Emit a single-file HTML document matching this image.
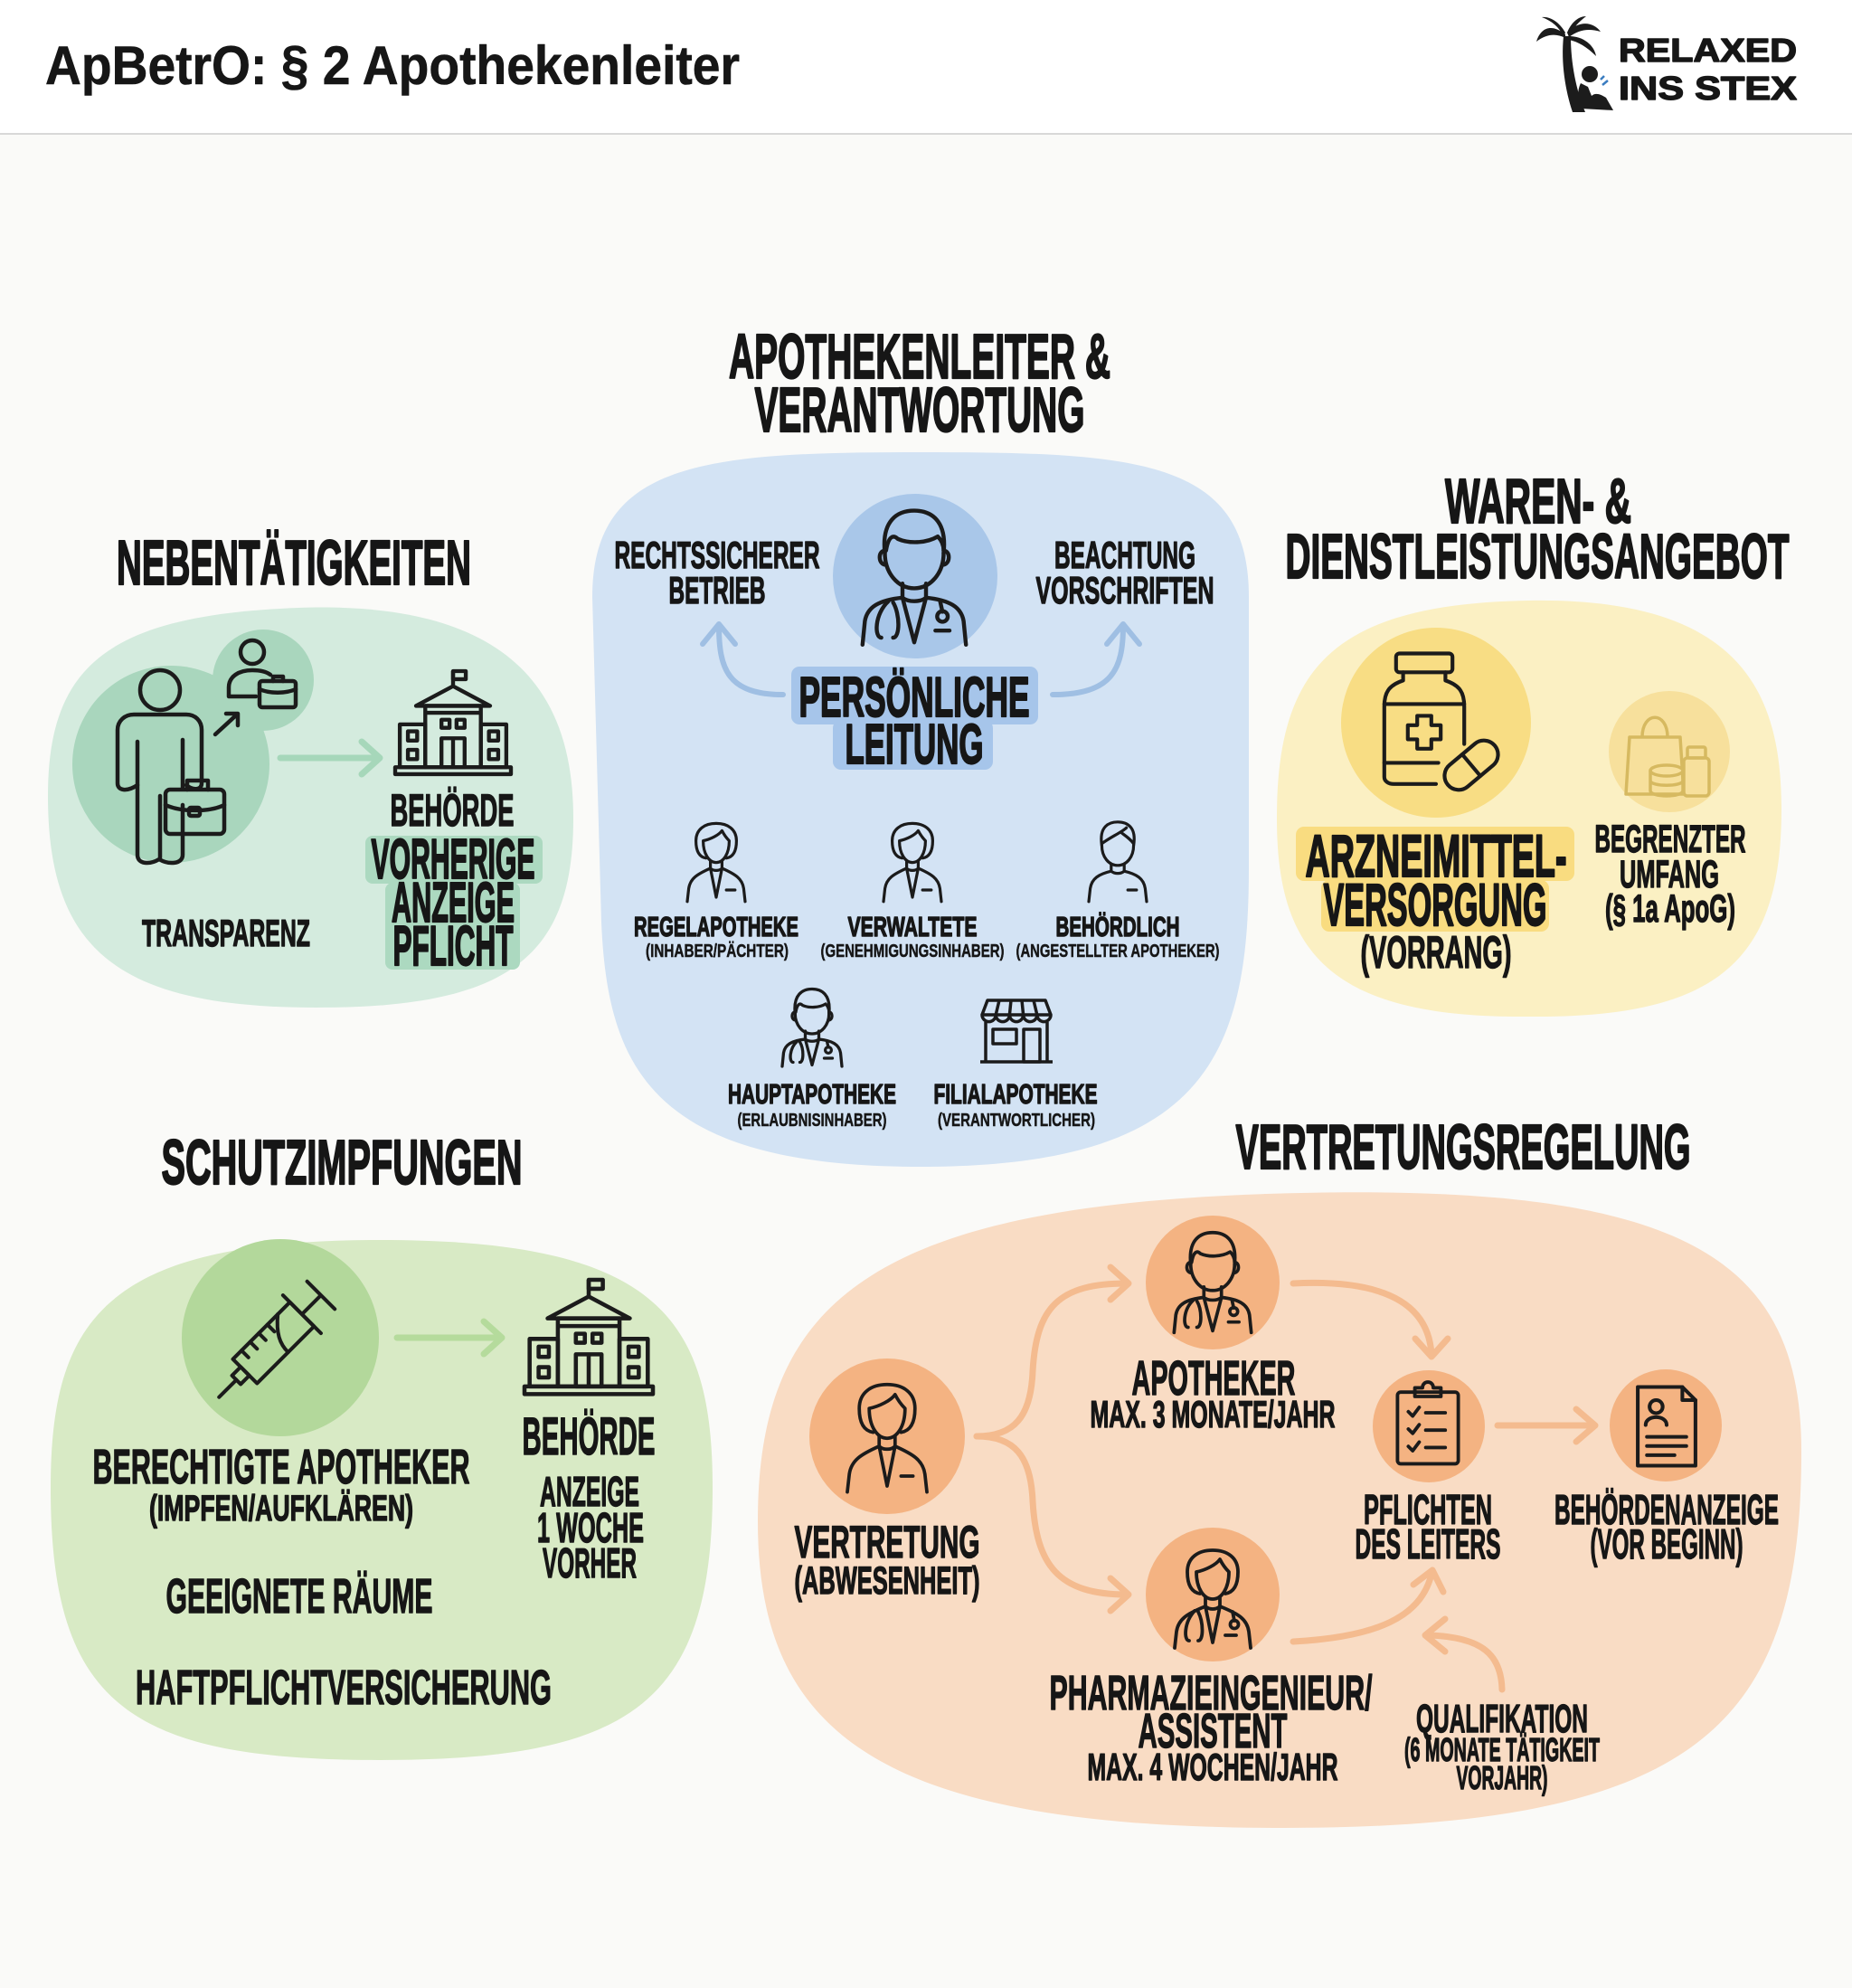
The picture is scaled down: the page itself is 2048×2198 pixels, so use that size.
<!DOCTYPE html>
<html><head><meta charset="utf-8"><style>
html,body{margin:0;padding:0;background:#fafaf8;}
svg{display:block;}
text{font-family:"Liberation Sans","DejaVu Sans",sans-serif;font-weight:700;fill:#161616;stroke:#161616;stroke-width:1.4px;stroke-linejoin:round;}
.hd text{stroke-width:2.2px;}
.sm text{stroke-width:0.5px;}
text.title{stroke-width:0.6px;}
</style></head><body>
<svg width="2048" height="2198" viewBox="0 0 2048 2198" xmlns="http://www.w3.org/2000/svg">
<defs>
 <g id="docM" fill="none" stroke="#1b1b1b" stroke-linecap="round" stroke-linejoin="round">
  <path d="M-25 -22 C-28 -50 -14 -58 0 -58 C14 -58 28 -50 25 -22"/>
  <path d="M-25 -22 C-25 -5 -14 8 0 8 C14 8 25 -5 25 -22"/>
  <path d="M-24 -24 C-22 -36 -18 -38 -14 -34 C-5 -30 10 -30 20 -36 C24 -32 25 -28 25 -24"/>
  <path d="M-25 -24 C-31 -24 -31 -12 -24 -12 M25 -24 C31 -24 31 -12 24 -12"/>
  <path d="M-10 4 V16 M10 4 V16 M-10 16 C-5 20 5 20 10 16"/>
  <path d="M-44 56 L-42 36 C-40 24 -30 18 -10 16 L0 54 L10 16 C30 18 40 24 42 36 L44 56"/>
  <path d="M-22 19 C-34 30 -34 50 -28 50 M-18 20 C-12 30 -12 50 -18 50"/>
  <path d="M22 19 L24 28"/><circle cx="24" cy="32" r="4.5"/>
  <path d="M18 44 H30"/>
 </g>
 <g id="woman" fill="none" stroke="#1b1b1b" stroke-linecap="round" stroke-linejoin="round">
  <path d="M-14 -4 C-26 -6 -28 -18 -28 -28 C-28 -44 -16 -52 0 -52 C16 -52 28 -44 28 -28 C28 -18 26 -6 14 -4"/>
  <path d="M-18 -28 C-8 -30 4 -36 8 -42 C12 -34 16 -30 18 -28 C18 -10 10 2 0 2 C-10 2 -18 -10 -18 -28 Z"/>
  <path d="M-8 0 V10 M8 0 V10 M-8 10 C-4 14 4 14 8 10"/>
  <path d="M-40 56 L-38 38 C-36 24 -26 18 -8 10 L0 50 L8 10 C26 18 36 24 38 38 L40 56"/>
  <path d="M14 40 H26"/>
 </g>
 <g id="docW" fill="none" stroke="#1b1b1b" stroke-linecap="round" stroke-linejoin="round">
  <path d="M-14 -4 C-26 -6 -28 -18 -28 -28 C-28 -44 -16 -52 0 -52 C16 -52 28 -44 28 -28 C28 -18 26 -6 14 -4"/>
  <path d="M-18 -28 C-8 -30 4 -36 8 -42 C12 -34 16 -30 18 -28 C18 -10 10 2 0 2 C-10 2 -18 -10 -18 -28 Z"/>
  <path d="M-8 0 V10 M8 0 V10 M-8 10 C-4 14 4 14 8 10"/>
  <path d="M-42 56 L-40 38 C-38 24 -28 18 -8 10 L0 50 L8 10 C28 18 38 24 40 38 L42 56"/>
  <path d="M-20 15 C-32 28 -32 48 -26 48 M-16 16 C-10 28 -10 48 -16 48"/>
  <path d="M22 16 L24 26"/><circle cx="24" cy="30" r="4.5"/>
  <path d="M14 42 H26"/>
 </g>
 <g id="man" fill="none" stroke="#1b1b1b" stroke-linecap="round" stroke-linejoin="round">
  <path d="M-22 -22 C-26 -48 -12 -54 0 -54 C14 -54 26 -46 22 -22"/>
  <path d="M-22 -22 C-22 -5 -12 6 0 6 C12 6 22 -5 22 -22"/>
  <path d="M-22 -24 C-12 -32 6 -40 12 -46 M4 -40 C12 -34 18 -30 22 -24"/>
  <path d="M-9 4 V14 M9 4 V14 M-9 14 C-4 18 4 18 9 14"/>
  <path d="M-40 56 L-38 38 C-36 24 -26 18 -9 14 M9 14 C26 18 36 24 38 38 L40 56"/>
  <path d="M14 40 H26"/>
 </g>
 <g id="bldg" fill="none" stroke="#1b1b1b" stroke-linejoin="round">
  <path d="M0 -36 V-50"/><rect x="0" y="-50" width="11" height="7"/>
  <path d="M-32 -20 L0 -37 L32 -20 Z"/>
  <rect x="-24" y="-20" width="48" height="53"/>
  <path d="M-24 -14 H24"/>
  <rect x="-10" y="-8" width="7" height="7"/><rect x="3" y="-8" width="7" height="7"/>
  <rect x="-10" y="8" width="20" height="25"/><path d="M0 8 V33"/>
  <rect x="-46" y="-4" width="22" height="37"/><rect x="24" y="-4" width="22" height="37"/>
  <rect x="-39" y="2" width="8" height="8"/><rect x="-39" y="18" width="8" height="8"/>
  <rect x="31" y="2" width="8" height="8"/><rect x="31" y="18" width="8" height="8"/>
  <rect x="-50" y="33" width="100" height="6"/>
 </g>
</defs>

<!-- header -->
<rect x="0" y="0" width="2048" height="148" fill="#ffffff"/>
<rect x="0" y="147" width="2048" height="2" fill="#d8d8d8"/>
<text class="title" x="50" y="93" font-size="60" textLength="768" lengthAdjust="spacingAndGlyphs" fill="#222">ApBetrO: § 2 Apothekenleiter</text>

<!-- logo -->
<g fill="#1c1c1c">
 <path d="M1739 124 C1731 100 1726 70 1729 40 L1737 40 C1737 70 1743 100 1753 124 Z"/>
 <path d="M1731 38 C1716 26 1704 30 1699 46 C1711 37 1721 37 1731 42 Z"/>
 <path d="M1731 36 C1724 24 1714 18 1705 19 C1716 23 1724 30 1729 40 Z"/>
 <path d="M1733 36 C1746 22 1762 24 1770 35 C1756 31 1746 33 1735 41 Z"/>
 <path d="M1735 40 C1751 40 1763 50 1765 62 C1755 52 1745 46 1735 44 Z"/>
 <path d="M1733 36 C1738 24 1746 18 1754 18 C1746 24 1740 30 1736 40 Z"/>
 <circle cx="1758" cy="82" r="9"/>
 <path d="M1748 92 C1744 100 1744 112 1748 120 L1784 122 L1776 108 C1770 104 1764 102 1760 106 L1756 96 Z"/>
</g>
<path d="M1770 88 L1774 84 M1772 94 L1778 89" stroke="#3a7cc0" stroke-width="2.5" fill="none"/>
<text x="1790" y="68" font-size="36" textLength="197" lengthAdjust="spacingAndGlyphs" fill="#1c1c1c">RELAXED</text>
<text x="1790" y="110" font-size="36" textLength="197" lengthAdjust="spacingAndGlyphs" fill="#1c1c1c">INS STEX</text>

<!-- ============ BLUE ============ -->
<path d="M1018 500 C1260 500 1381 508 1381 660 L1381 960 C1381 1170 1330 1290 1018 1290 C720 1290 672 1180 665 1020 L655 660 C655 510 780 500 1018 500 Z" fill="#d3e3f4"/>
<circle cx="1012" cy="637" r="91" fill="#a9c7e9"/>
<use href="#docM" transform="translate(1011 640) scale(1.3)" stroke-width="3.4"/>
<rect x="875" y="737" width="273" height="64" rx="9" fill="#a6c5ea"/>
<rect x="921" y="796" width="177" height="55" rx="9" fill="#a6c5ea"/>
<g fill="none" stroke="#9fbfe3" stroke-width="6" stroke-linecap="round" stroke-linejoin="round">
 <path d="M866 768 C805 768 795 740 795 692"/>
 <path d="M777 712 L795 690 L813 712"/>
 <path d="M1164 768 C1230 768 1242 740 1242 692"/>
 <path d="M1224 712 L1242 690 L1260 712"/>
</g>
<g font-size="42" text-anchor="middle">
 <text x="793" y="628" textLength="227" lengthAdjust="spacingAndGlyphs">RECHTSSICHERER</text>
 <text x="793" y="667" textLength="107" lengthAdjust="spacingAndGlyphs">BETRIEB</text>
 <text x="1244" y="628" textLength="156" lengthAdjust="spacingAndGlyphs">BEACHTUNG</text>
 <text x="1244" y="667" textLength="197" lengthAdjust="spacingAndGlyphs">VORSCHRIFTEN</text>
</g>
<g class="hd" font-size="62" text-anchor="middle">
 <text x="1011" y="792" textLength="255" lengthAdjust="spacingAndGlyphs">PERSÖNLICHE</text>
 <text x="1011" y="844" textLength="153" lengthAdjust="spacingAndGlyphs">LEITUNG</text>
</g>
<use href="#woman" transform="translate(792 952) scale(0.8)" stroke-width="4"/>
<use href="#woman" transform="translate(1009 952) scale(0.8)" stroke-width="4"/>
<use href="#man" transform="translate(1236 952) scale(0.8)" stroke-width="4"/>
<use href="#docM" transform="translate(898 1137) scale(0.75)" stroke-width="4.4"/>
<g transform="translate(1124 1146)" fill="none" stroke="#1b1b1b" stroke-width="3.5" stroke-linejoin="round">
 <path d="M-38 -24 L-32 -40 L32 -40 L38 -24"/>
 <path d="M-38 -24 A7.6 7.6 0 0 0 -22.8 -24 A7.6 7.6 0 0 0 -7.6 -24 A7.6 7.6 0 0 0 7.6 -24 A7.6 7.6 0 0 0 22.8 -24 A7.6 7.6 0 0 0 38 -24 Z"/>
 <path d="M-19 -40 L-22.8 -24 M-6 -40 L-7.6 -24 M6 -40 L7.6 -24 M19 -40 L22.8 -24"/>
 <path d="M-34 -16 V28 M34 -16 V28 M-40 28 H40"/>
 <rect x="-26" y="-8" width="26" height="16"/>
 <rect x="8" y="-8" width="18" height="36"/>
</g>
<g font-size="31" text-anchor="middle">
 <text x="792" y="1035" textLength="182" lengthAdjust="spacingAndGlyphs">REGELAPOTHEKE</text>
 <text x="1009" y="1035" textLength="143" lengthAdjust="spacingAndGlyphs">VERWALTETE</text>
 <text x="1236" y="1035" textLength="137" lengthAdjust="spacingAndGlyphs">BEHÖRDLICH</text>
 <text x="898" y="1220" textLength="186" lengthAdjust="spacingAndGlyphs">HAUPTAPOTHEKE</text>
 <text x="1123" y="1220" textLength="181" lengthAdjust="spacingAndGlyphs">FILIALAPOTHEKE</text>
</g>
<g class="sm" font-size="20" text-anchor="middle">
 <text x="793" y="1058" textLength="158" lengthAdjust="spacingAndGlyphs">(INHABER/PÄCHTER)</text>
 <text x="1009" y="1058" textLength="203" lengthAdjust="spacingAndGlyphs">(GENEHMIGUNGSINHABER)</text>
 <text x="1236" y="1058" textLength="225" lengthAdjust="spacingAndGlyphs">(ANGESTELLTER APOTHEKER)</text>
 <text x="898" y="1245" textLength="165" lengthAdjust="spacingAndGlyphs">(ERLAUBNISINHABER)</text>
 <text x="1124" y="1245" textLength="174" lengthAdjust="spacingAndGlyphs">(VERANTWORTLICHER)</text>
</g>

<!-- ============ NEBENTÄTIGKEITEN ============ -->
<path d="M330 672 C565 664 634 765 634 905 C634 1060 560 1114 350 1114 C130 1114 53 1050 53 880 C53 735 120 680 330 672 Z" fill="#d4ebde"/>
<circle cx="189" cy="845" r="109" fill="#a9d6bd"/>
<circle cx="291" cy="752" r="56" fill="#a9d6bd"/>
<g fill="none" stroke="#1b1b1b" stroke-width="4.5" stroke-linecap="round" stroke-linejoin="round">
 <circle cx="177" cy="763" r="22"/>
 <path d="M148 790 H206 C216 790 223 797 223 807 V866 C223 874 213 874 206 868 M152 790 H148 C138 790 130 797 130 807 V866 C130 874 140 876 152 868 V945 C152 956 166 956 176 950 C186 956 202 956 202 945 V890"/>
 <path d="M152 820 V868 M202 818 V872 M177 880 V948"/>
 <rect x="183" y="873" width="65" height="49" rx="5"/>
 <path d="M207 873 V863 H230 V873"/>
 <path d="M183 890 C200 898 232 898 248 890"/>
 <rect x="209" y="893" width="12" height="9" rx="2"/>
 <circle cx="279" cy="721" r="13"/>
 <path d="M283 770 H253 V760 C253 748 264 741 279 741 C288 741 295 743 299 746"/>
 <rect x="287" y="753" width="40" height="29" rx="3"/>
 <path d="M302 753 V748 H313 V753 M287 762 C298 767 316 767 327 762"/>
 <path d="M238 812 L262 790 M250 789 H263 V802"/>
</g>
<g fill="none" stroke="#a6d7ba" stroke-width="7" stroke-linecap="round" stroke-linejoin="round">
 <path d="M310 838 H418"/><path d="M400 820 L420 838 L400 856"/>
</g>
<use href="#bldg" transform="translate(501 806) scale(1.28)" stroke-width="3.4"/>
<rect x="404" y="924" width="196" height="53" rx="8" fill="#acd9c0"/>
<rect x="426" y="976" width="149" height="96" rx="8" fill="#acd9c0"/>
<text x="250" y="1046" font-size="42" text-anchor="middle" textLength="186" lengthAdjust="spacingAndGlyphs">TRANSPARENZ</text>
<text x="500" y="913" font-size="50" text-anchor="middle" textLength="137" lengthAdjust="spacingAndGlyphs">BEHÖRDE</text>
<g class="hd" font-size="62" text-anchor="middle">
 <text x="501" y="971" textLength="181" lengthAdjust="spacingAndGlyphs">VORHERIGE</text>
 <text x="501" y="1019" textLength="136" lengthAdjust="spacingAndGlyphs">ANZEIGE</text>
 <text x="501" y="1067" textLength="133" lengthAdjust="spacingAndGlyphs">PFLICHT</text>
</g>

<!-- ============ WAREN ============ -->
<path d="M1690 664 C1925 660 1970 765 1970 895 C1970 1062 1900 1126 1690 1124 C1470 1126 1412 1052 1412 905 C1412 742 1470 668 1690 664 Z" fill="#fbf0c3"/>
<circle cx="1588" cy="799" r="105" fill="#f8dd84"/>
<circle cx="1846" cy="831" r="67" fill="#f7e09c"/>
<g transform="translate(1575 794) scale(1.3)" fill="none" stroke="#1b1b1b" stroke-width="3.2" stroke-linejoin="round" stroke-linecap="round">
 <rect x="-24" y="-55" width="48" height="16" rx="3"/>
 <path d="M-18 -39 V-32 C-30 -28 -34 -22 -34 -10 V50 C-34 54 -30 56 -26 56 H10 M18 -39 V-32 C30 -28 34 -22 34 -10 V22"/>
 <path d="M-34 -12 H34 M-34 38 H12"/>
 <path d="M-6 -2 H6 V6 H14 V18 H6 V26 H-6 V18 H-14 V6 H-6 Z"/>
 <g transform="translate(40 40) rotate(-40)">
  <rect x="-26" y="-12" width="52" height="24" rx="12"/>
  <path d="M0 -12 V12"/>
 </g>
</g>
<g fill="none" stroke="#d6b960" stroke-width="3.5" stroke-linejoin="round">
 <path d="M1802 815 L1858 815 L1862 878 L1798 878 Z"/>
 <path d="M1816 815 C1816 786 1844 786 1844 815"/>
 <rect x="1862" y="838" width="28" height="42" rx="4"/>
 <rect x="1866" y="826" width="20" height="12" rx="2"/>
 <ellipse cx="1843" cy="852" rx="18" ry="6" fill="#f7e09c"/>
 <path d="M1825 852 V874 C1825 882 1861 882 1861 874 V852 M1825 863 C1825 870 1861 870 1861 863"/>
</g>
<rect x="1433" y="914" width="308" height="60" rx="9" fill="#f9dc80"/>
<rect x="1461" y="973" width="252" height="57" rx="9" fill="#f9dc80"/>
<g class="hd" font-size="66" text-anchor="middle">
 <text x="1588" y="969" textLength="289" lengthAdjust="spacingAndGlyphs">ARZNEIMITTEL-</text>
 <text x="1587" y="1023" textLength="247" lengthAdjust="spacingAndGlyphs">VERSORGUNG</text>
</g>
<text x="1588" y="1070" font-size="50" text-anchor="middle" textLength="167" lengthAdjust="spacingAndGlyphs">(VORRANG)</text>
<g font-size="43" text-anchor="middle">
 <text x="1847" y="942" textLength="167" lengthAdjust="spacingAndGlyphs">BEGRENZTER</text>
 <text x="1846" y="981" textLength="110" lengthAdjust="spacingAndGlyphs">UMFANG</text>
 <text x="1847" y="1019" textLength="144" lengthAdjust="spacingAndGlyphs">(§ 1a ApoG)</text>
</g>

<!-- ============ SCHUTZIMPFUNGEN ============ -->
<path d="M420 1371 C725 1371 788 1455 788 1645 C788 1882 700 1946 420 1946 C140 1946 56 1882 56 1645 C56 1455 120 1371 420 1371 Z" fill="#d8eac5"/>
<circle cx="310" cy="1479" r="109" fill="#b3d89b"/>
<g transform="translate(311 1476) rotate(-45) scale(1.35)" fill="none" stroke="#1b1b1b" stroke-width="3" stroke-linecap="round" stroke-linejoin="round">
 <path d="M-72 0 H-52"/>
 <rect x="-52" y="-5" width="10" height="10"/>
 <rect x="-42" y="-14" width="66" height="28"/>
 <path d="M-32 -14 V-6 M-22 -14 V-6 M-12 -14 V-6 M-2 -14 V-6"/>
 <path d="M-6 14 C-6 4 -2 -4 10 -14"/>
 <path d="M24 -22 V22 M24 0 H46 M46 -16 V16"/>
</g>
<g fill="none" stroke="#b5db9c" stroke-width="7" stroke-linecap="round" stroke-linejoin="round">
 <path d="M439 1479 H553"/><path d="M535 1461 L555 1479 L535 1497"/>
</g>
<use href="#bldg" transform="translate(651 1486) scale(1.42)" stroke-width="3.2"/>
<text x="651" y="1608" font-size="58" text-anchor="middle" textLength="147" lengthAdjust="spacingAndGlyphs">BEHÖRDE</text>
<g font-size="46" text-anchor="middle">
 <text x="652" y="1665" textLength="110" lengthAdjust="spacingAndGlyphs">ANZEIGE</text>
 <text x="653" y="1705" textLength="118" lengthAdjust="spacingAndGlyphs">1 WOCHE</text>
 <text x="652" y="1744" textLength="104" lengthAdjust="spacingAndGlyphs">VORHER</text>
</g>
<text x="311" y="1640" font-size="54" text-anchor="middle" textLength="417" lengthAdjust="spacingAndGlyphs">BERECHTIGTE APOTHEKER</text>
<text x="311" y="1681" font-size="40" text-anchor="middle" textLength="292" lengthAdjust="spacingAndGlyphs">(IMPFEN/AUFKLÄREN)</text>
<text x="331" y="1783" font-size="54" text-anchor="middle" textLength="295" lengthAdjust="spacingAndGlyphs">GEEIGNETE RÄUME</text>
<text x="380" y="1884" font-size="54" text-anchor="middle" textLength="460" lengthAdjust="spacingAndGlyphs">HAFTPFLICHTVERSICHERUNG</text>

<!-- ============ VERTRETUNG ============ -->
<path d="M1400 1320 C1855 1305 1992 1385 1992 1605 C1992 1905 1880 2021 1420 2021 C980 2021 838 1922 838 1682 C838 1442 960 1335 1400 1320 Z" fill="#f9dcc4"/>
<g fill="none" stroke="#f4bb8f" stroke-width="7" stroke-linecap="round" stroke-linejoin="round">
 <path d="M1080 1588 C1122 1588 1140 1566 1142 1516 C1146 1446 1170 1419 1246 1419"/>
 <path d="M1228 1401 L1248 1419 L1228 1437"/>
 <path d="M1080 1588 C1122 1588 1140 1610 1142 1660 C1146 1730 1170 1763 1246 1763"/>
 <path d="M1228 1745 L1248 1763 L1228 1781"/>
 <path d="M1430 1419 C1532 1414 1580 1442 1583 1498"/>
 <path d="M1565 1480 L1583 1500 L1601 1480"/>
 <path d="M1430 1815 C1522 1810 1572 1788 1583 1740"/>
 <path d="M1563 1752 L1584 1736 L1596 1760"/>
 <path d="M1656 1576 H1762"/><path d="M1743 1558 L1764 1576 L1743 1594"/>
 <path d="M1661 1868 C1660 1830 1640 1810 1580 1808"/>
 <path d="M1598 1790 L1576 1808 L1598 1826"/>
</g>
<circle cx="981" cy="1588" r="86" fill="#f4b382"/>
<circle cx="1341" cy="1418" r="74" fill="#f4b382"/>
<circle cx="1341" cy="1763" r="74" fill="#f4b382"/>
<circle cx="1580" cy="1577" r="62" fill="#f4b382"/>
<circle cx="1842" cy="1576" r="62" fill="#f4b382"/>
<use href="#woman" transform="translate(981 1588) scale(1.1)" stroke-width="3.4"/>
<use href="#docM" transform="translate(1341 1419) scale(0.97)" stroke-width="3.8"/>
<use href="#docW" transform="translate(1341 1766) scale(1.0)" stroke-width="3.8"/>
<g transform="translate(1579 1580) scale(1.2)" fill="none" stroke="#1b1b1b" stroke-width="3.2" stroke-linecap="round" stroke-linejoin="round">
 <rect x="-28" y="-34" width="56" height="66" rx="3"/>
 <path d="M-12 -34 V-38 H-5 C-5 -45 5 -45 5 -38 H12 V-30 H-12 Z"/>
 <path d="M-18 -16 L-14 -12 L-8 -20 M-2 -15 H16"/>
 <path d="M-18 0 L-14 4 L-8 -4 M-2 1 H16"/>
 <path d="M-18 16 L-14 20 L-8 12 M-2 17 H16"/>
</g>
<g transform="translate(1843 1577) scale(1.45)" fill="none" stroke="#1b1b1b" stroke-width="2.8" stroke-linecap="round" stroke-linejoin="round">
 <path d="M-22 -30 H12 L22 -20 V30 H-22 Z"/>
 <path d="M12 -30 V-20 H22"/>
 <circle cx="-8" cy="-15" r="5"/>
 <path d="M-16 -1 C-16 -9 0 -9 0 -1"/>
 <path d="M-15 8 H15 M-15 15 H15 M-15 22 H6"/>
</g>
<text x="981" y="1722" font-size="50" text-anchor="middle" textLength="205" lengthAdjust="spacingAndGlyphs">VERTRETUNG</text>
<text x="981" y="1762" font-size="43" text-anchor="middle" textLength="205" lengthAdjust="spacingAndGlyphs">(ABWESENHEIT)</text>
<text x="1342" y="1542" font-size="54" text-anchor="middle" textLength="181" lengthAdjust="spacingAndGlyphs">APOTHEKER</text>
<text x="1341" y="1578" font-size="42" text-anchor="middle" textLength="271" lengthAdjust="spacingAndGlyphs">MAX. 3 MONATE/JAHR</text>
<g font-size="46" text-anchor="middle">
 <text x="1579" y="1685" textLength="142" lengthAdjust="spacingAndGlyphs">PFLICHTEN</text>
 <text x="1579" y="1723" textLength="161" lengthAdjust="spacingAndGlyphs">DES LEITERS</text>
 <text x="1843" y="1685" textLength="248" lengthAdjust="spacingAndGlyphs">BEHÖRDENANZEIGE</text>
 <text x="1843" y="1723" textLength="169" lengthAdjust="spacingAndGlyphs">(VOR BEGINN)</text>
</g>
<text x="1339" y="1890" font-size="54" text-anchor="middle" textLength="357" lengthAdjust="spacingAndGlyphs">PHARMAZIEINGENIEUR/</text>
<text x="1341" y="1932" font-size="54" text-anchor="middle" textLength="165" lengthAdjust="spacingAndGlyphs">ASSISTENT</text>
<text x="1341" y="1968" font-size="42" text-anchor="middle" textLength="277" lengthAdjust="spacingAndGlyphs">MAX. 4 WOCHEN/JAHR</text>
<text x="1661" y="1915" font-size="44" text-anchor="middle" textLength="190" lengthAdjust="spacingAndGlyphs">QUALIFIKATION</text>
<text x="1661" y="1947" font-size="36" text-anchor="middle" textLength="216" lengthAdjust="spacingAndGlyphs">(6 MONATE TÄTIGKEIT</text>
<text x="1661" y="1978" font-size="36" text-anchor="middle" textLength="101" lengthAdjust="spacingAndGlyphs">VORJAHR)</text>

<!-- ============ HEADINGS ============ -->
<g class="hd" font-size="70" text-anchor="middle">
 <text x="1017" y="418" textLength="422" lengthAdjust="spacingAndGlyphs">APOTHEKENLEITER &amp;</text>
 <text x="1017" y="477" textLength="365" lengthAdjust="spacingAndGlyphs">VERANTWORTUNG</text>
 <text x="325" y="646" textLength="392" lengthAdjust="spacingAndGlyphs">NEBENTÄTIGKEITEN</text>
 <text x="1701" y="578" textLength="206" lengthAdjust="spacingAndGlyphs">WAREN- &amp;</text>
 <text x="1700" y="639" textLength="557" lengthAdjust="spacingAndGlyphs">DIENSTLEISTUNGSANGEBOT</text>
 <text x="378" y="1309" textLength="399" lengthAdjust="spacingAndGlyphs">SCHUTZIMPFUNGEN</text>
 <text x="1618" y="1292" textLength="503" lengthAdjust="spacingAndGlyphs">VERTRETUNGSREGELUNG</text>
</g>
</svg>
</body></html>
